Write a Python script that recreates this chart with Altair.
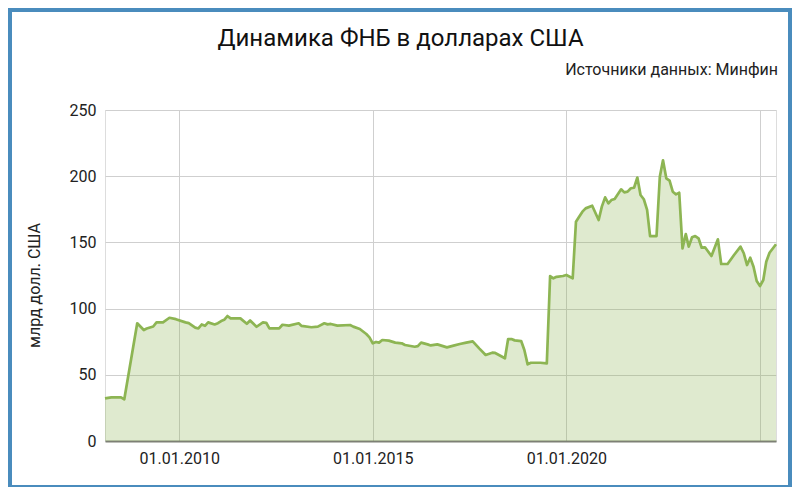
import altair as alt
import pandas as pd

title_text = "Динамика ФНБ в долларах США"
source_text = "Источники данных: Минфин"
y_title = "млрд долл. США"

dates = [
    "2008-02-01", "2008-04-01", "2008-07-01", "2008-08-01", "2008-12-01",
    "2009-02-01", "2009-03-01", "2009-05-01", "2009-06-01", "2009-08-01",
    "2009-10-01", "2009-12-01", "2010-03-01", "2010-04-01", "2010-06-01",
    "2010-07-01", "2010-08-01", "2010-09-01", "2010-10-01", "2010-12-01",
    "2011-01-01", "2011-02-01", "2011-03-01", "2011-04-01", "2011-05-01",
    "2011-08-01", "2011-10-01", "2011-11-01", "2012-01-01", "2012-03-01",
    "2012-04-01", "2012-05-01", "2012-08-01", "2012-09-01", "2012-11-01",
    "2013-02-01", "2013-03-01", "2013-06-01", "2013-08-01", "2013-10-01",
    "2013-11-01", "2013-12-01", "2014-02-01", "2014-06-01", "2014-07-01",
    "2014-09-01", "2014-11-01", "2014-12-01", "2015-01-01", "2015-02-01",
    "2015-03-01", "2015-04-01", "2015-06-01", "2015-08-01", "2015-10-01",
    "2015-11-01", "2016-02-01", "2016-03-01", "2016-04-01", "2016-06-01",
    "2016-07-01", "2016-09-01", "2016-12-01", "2017-02-01", "2017-04-01",
    "2017-06-01", "2017-08-01", "2017-10-01", "2017-12-01", "2018-02-01",
    "2018-03-01", "2018-06-01", "2018-07-01", "2018-08-01", "2018-09-01",
    "2018-11-01", "2018-12-01", "2019-01-01", "2019-02-01", "2019-05-01",
    "2019-07-01", "2019-08-01", "2019-09-01", "2019-10-01", "2019-12-01",
    "2020-01-01", "2020-03-01", "2020-04-01", "2020-05-01", "2020-06-01",
    "2020-07-01", "2020-09-01", "2020-11-01", "2020-12-01", "2021-01-01",
    "2021-02-01", "2021-03-01", "2021-04-01", "2021-06-01", "2021-07-01",
    "2021-08-01", "2021-09-01", "2021-10-01", "2021-11-01", "2021-12-01",
    "2022-01-01", "2022-02-01", "2022-03-01", "2022-05-01", "2022-06-01",
    "2022-07-01", "2022-08-01", "2022-09-01", "2022-10-01", "2022-11-01",
    "2022-12-01", "2023-01-01", "2023-02-01", "2023-03-01", "2023-04-01",
    "2023-05-01", "2023-06-01", "2023-07-01", "2023-08-01", "2023-10-01",
    "2023-12-01", "2024-01-01", "2024-03-01", "2024-05-01", "2024-07-01",
    "2024-08-01", "2024-09-01", "2024-10-01", "2024-11-01", "2024-12-01",
    "2025-01-01", "2025-02-01", "2025-03-01", "2025-04-01", "2025-06-01",
]

values = [
    32.2, 33.0, 33.0, 31.5, 88.9,
    83.8, 85.0, 86.5, 89.6, 89.6,
    93.1, 92.0, 89.6, 89.0, 85.6,
    85.0, 88.0, 87.0, 89.6, 88.0,
    89.0, 90.6, 91.5, 94.4, 92.6,
    92.6, 88.5, 91.0, 86.3, 89.6,
    89.3, 85.0, 85.0, 87.8, 87.1,
    88.9, 86.9, 85.9, 86.4, 88.9,
    88.1, 88.4, 87.1, 87.6, 86.4,
    84.6, 80.8, 78.3, 73.8, 74.8,
    74.3, 76.3, 75.8, 74.3, 73.8,
    72.5, 71.2, 71.7, 74.3, 73.0,
    72.2, 73.0, 70.7, 72.0, 73.3,
    74.3, 75.3, 70.0, 65.0, 66.7,
    66.5, 62.5, 77.0, 77.0, 76.0,
    75.5, 68.7, 57.9, 59.1, 59.1,
    58.7, 124.6, 122.9, 124.0, 124.6,
    125.4, 122.9, 165.6, 169.4, 173.2,
    175.7, 177.7, 166.9, 177.0, 184.0,
    179.5, 182.0, 182.8, 190.1, 187.8,
    188.3, 190.9, 191.3, 199.0, 185.8,
    182.6, 174.5, 154.8, 154.8, 199.6,
    212.0, 198.4, 196.6, 188.3, 186.3,
    187.5, 145.5, 156.3, 146.8, 153.9,
    154.8, 153.1, 146.0, 146.3, 139.7,
    152.3, 133.7, 133.7, 140.5, 146.8,
    141.8, 132.9, 138.4, 131.6, 120.8,
    117.0, 121.6, 135.4, 142.2, 148.6,
]

x_ticks = ["2010-01-01", "2015-01-01", "2020-01-01", "2025-01-01"]
y_ticks = [0, 50, 100, 150, 200, 250]

df = pd.DataFrame({"date": pd.to_datetime(dates), "value": values})

FONT = "Roboto"
LINE = "#8db553"
BORDER = "#4a8cbd"

x_enc = alt.X(
    "date:T",
    scale=alt.Scale(domain=[alt.DateTime(year=2008, month=2, date=1),
                            alt.DateTime(year=2025, month=6, date=1)]),
    axis=alt.Axis(
        values=[alt.DateTime(year=int(d[:4]), month=1, date=1) for d in x_ticks],
        format="%d.%m.%Y",
        labelExpr="year(datum.value) >= 2025 ? '' : datum.label",
        grid=True, gridColor="#cfcfcf", gridWidth=1,
        ticks=False, domain=True, domainColor="#7d8075", domainWidth=2,
        labelFont=FONT, labelFontSize=16, labelColor="#222222", labelPadding=9,
        title=None,
    ),
)
y_enc = alt.Y(
    "value:Q",
    scale=alt.Scale(domain=[0, 250], nice=False, zero=True),
    axis=alt.Axis(
        values=y_ticks, grid=True, gridColor="#cfcfcf", gridWidth=1,
        ticks=False, domain=False,
        labelFont=FONT, labelFontSize=16, labelColor="#222222", labelPadding=9,
        title=y_title, titleFont=FONT, titleFontSize=16, titleFontWeight="normal",
        titleColor="#222222", titleX=-63, titleY=175, titleAngle=270,
        titleBaseline="bottom", titleAlign="center",
    ),
)

area = alt.Chart(df).mark_area(
    color=LINE, fillOpacity=0.28, interpolate="linear",
    line=alt.OverlayMarkDef(color=LINE, strokeWidth=2.7, strokeJoin="round"),
).encode(x=x_enc, y=y_enc)

source = alt.Chart(pd.DataFrame({"t": [source_text]})).mark_text(
    align="right", baseline="alphabetic", font=FONT, fontSize=16, color="#222222",
).encode(text="t:N", x=alt.value(673), y=alt.value(-35))

frame = alt.Chart(pd.DataFrame({"k": [0]})).mark_rect(
    fill=None, stroke=BORDER, strokeWidth=4,
).encode(x=alt.value(-95), x2=alt.value(685), y=alt.value(-100), y2=alt.value(377))

chart = alt.layer(area, source, frame).properties(
    width=671, height=331,
    padding={"left": 97, "top": 102, "right": 16, "bottom": 46},
    autosize=alt.AutoSizeParams(type="none"),
    title=alt.TitleParams(
        text=title_text, font=FONT, fontSize=24, fontWeight="normal",
        color="#111111", anchor="middle", dx=-40, offset=-62,
        baseline="alphabetic",
    ),
).configure_view(stroke=None).configure(background="white")

chart.save("out.html", embed_options={"renderer": "svg", "actions": False})
